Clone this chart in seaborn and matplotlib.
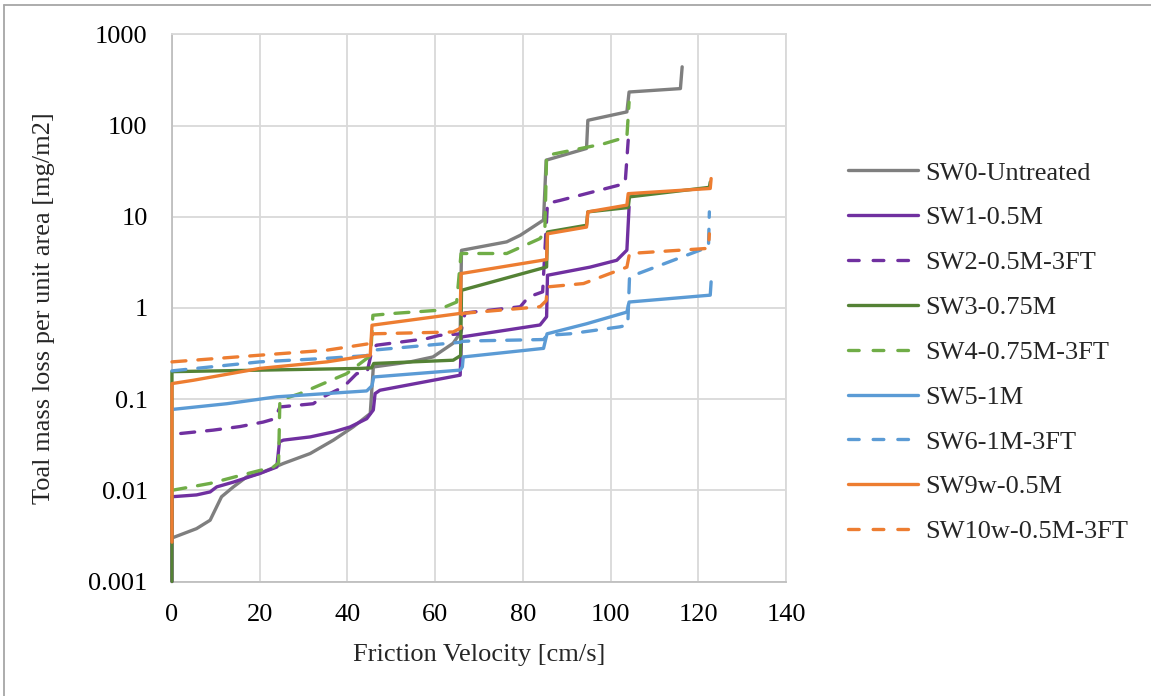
import matplotlib
matplotlib.use("Agg")
import matplotlib.pyplot as plt
import matplotlib.ticker as mticker
from matplotlib.lines import Line2D
import seaborn as sns

# series names, in legend / drawing order
names = ["SW0-Untreated", "SW1-0.5M", "SW2-0.5M-3FT", "SW3-0.75M", "SW4-0.75M-3FT",
         "SW5-1M", "SW6-1M-3FT", "SW9w-0.5M", "SW10w-0.5M-3FT"]

# friction velocity [cm/s] and mass loss [mg/m2]
sw0_x = [0, 5.6, 8.7, 11.3, 14, 17, 20, 25.4, 31.5, 36.8, 41.3, 45.2, 45.9, 54.3, 59.5, 64.1,
         65.7, 66.0, 76.3, 79.4, 84.7, 85.3, 94.5, 94.8, 103.7, 104.2, 115.9, 116.3]
sw0_y = [0.003, 0.0038, 0.0047, 0.0085, 0.0109, 0.014, 0.0153, 0.0197, 0.0253, 0.0355, 0.0495,
         0.0695, 0.225, 0.256, 0.29, 0.41, 0.53, 4.28, 5.3, 6.26, 9.2, 41.7, 56, 114, 141, 233,
         254, 440]

sw1_x = [0, 0, 5.6, 8.7, 10.2, 14, 20, 23.9, 24.5, 25.4, 31.5, 36.8, 40.6, 44.4, 45.9, 46.3,
         47.4, 65.7, 66.0, 83.9, 85.4, 85.6, 95.3, 101.4, 103.7, 104.2]
sw1_y = [0.001, 0.0085, 0.0089, 0.0096, 0.0109, 0.0123, 0.0153, 0.018, 0.034, 0.0355, 0.0385,
         0.0437, 0.0495, 0.061, 0.076, 0.115, 0.125, 0.183, 0.48, 0.65, 0.8, 2.28, 2.8, 3.33,
         4.3, 12.8]

sw2_x = [2.0, 9.4, 15.5, 20.8, 23.5, 24.6, 32.2, 34.5, 39.1, 42.1, 44.5, 45.6, 46.6, 58, 61,
         65.8, 66.8, 79.4, 81.3, 84.5, 85.6, 88.5, 103.3, 104.0]
sw2_y = [0.042, 0.0457, 0.05, 0.056, 0.061, 0.082, 0.089, 0.106, 0.136, 0.19, 0.2, 0.344, 0.39,
         0.46, 0.5, 0.52, 0.88, 1.03, 1.32, 1.5, 14, 15.1, 23.1, 69]

sw3_x = [0, 0, 42.9, 45.5, 46.0, 64.1, 65.8, 66.0, 85.4, 85.6, 94.5, 94.8, 104.0, 104.3, 122.5,
         122.7]
sw3_y = [0.001, 0.2, 0.217, 0.22, 0.246, 0.267, 0.3, 1.56, 2.81, 6.8, 8.06, 11.3, 12.6, 16.5, 21,
         24]

sw4_x = [0, 8.7, 15.7, 23.1, 24.3, 24.6, 29.2, 34.5, 39.8, 42.9, 45.3, 45.8, 50.5, 60.4, 64.9,
         65.9, 76.3, 83.9, 85.0, 85.4, 98.4, 103.7, 104.2]
sw4_y = [0.01, 0.0119, 0.0146, 0.018, 0.02, 0.0976, 0.115, 0.148, 0.19, 0.246, 0.3, 0.83, 0.87,
         0.94, 1.16, 3.95, 3.95, 5.76, 7, 47, 63, 75, 180]

sw5_x = [0, 12.5, 23.9, 44.4, 45.6, 46.0, 65.7, 66.2, 66.4, 84.7, 85.5, 94.5, 103.7, 104.2,
         122.7, 122.9]
sw5_y = [0.077, 0.089, 0.106, 0.123, 0.14, 0.175, 0.208, 0.226, 0.29, 0.36, 0.52, 0.67, 0.9,
         1.16, 1.38, 1.93]

sw6_x = [0, 20, 35.3, 44.4, 45.8, 65.7, 66.3, 68.7, 84.7, 85.5, 90.7, 102.1, 103.9, 104.3,
         122.3, 122.5]
sw6_y = [0.204, 0.256, 0.28, 0.3, 0.344, 0.42, 0.43, 0.435, 0.45, 0.5, 0.52, 0.62, 0.65, 2.19,
         4.66, 11.3]

sw9_x = [0, 0, 4.9, 20, 35.3, 45.2, 45.6, 65.7, 65.9, 85.4, 85.6, 94.5, 94.8, 103.7, 104.0,
         122.7, 122.9]
sw9_y = [0.0027, 0.148, 0.161, 0.217, 0.256, 0.303, 0.646, 0.87, 2.38, 3.39, 6.5, 7.7, 11.3,
         13.4, 17.9, 20.4, 26.2]

sw10_x = [0, 20, 35.3, 45.2, 45.7, 64.1, 65.8, 66.1, 83.9, 85.3, 85.6, 93.8, 103.7, 104.3,
          122.3, 122.5]
sw10_y = [0.256, 0.303, 0.344, 0.407, 0.52, 0.545, 0.6, 0.87, 1.03, 1.2, 1.7, 1.85, 2.8, 3.95,
          4.5, 6.5]

xs = [sw0_x, sw1_x, sw2_x, sw3_x, sw4_x, sw5_x, sw6_x, sw9_x, sw10_x]
ys = [sw0_y, sw1_y, sw2_y, sw3_y, sw4_y, sw5_y, sw6_y, sw9_y, sw10_y]
colors = ["#7F7F7F", "#7030A0", "#7030A0", "#548235", "#70AD47",
          "#5B9BD5", "#5B9BD5", "#ED7D31", "#ED7D31"]
dashed = [False, False, True, False, True, False, True, False, True]

x_ticks = [0, 20, 40, 60, 80, 100, 120, 140]
y_ticks = [0.001, 0.01, 0.1, 1, 10, 100, 1000]

sns.set_theme(style="white")
plt.rcParams["font.family"] = ["Liberation Serif", "DejaVu Serif"]

fig = plt.figure(figsize=(11.51, 6.96), dpi=100)
ax = fig.add_axes([0.1494, 0.1645, 0.5336, 0.7862])

lw = 2.4
handles = []
for name, x, y, c, d in zip(names, xs, ys, colors, dashed):
    ls = (0, (4.2, 3.6)) if d else "-"
    sns.lineplot(x=x, y=y, ax=ax, color=c, linestyle=ls, linewidth=lw, sort=False,
                 estimator=None, dash_capstyle="round", solid_capstyle="round",
                 zorder=3, clip_on=False)
    handles.append(Line2D([], [], color=c, linestyle=(0, (3.2, 4.2)) if d else "-",
                          linewidth=lw, dash_capstyle="round", solid_capstyle="round"))

ax.set_yscale("log")
ax.set_xlim(0, 140)
ax.set_ylim(0.001, 1000)
ax.set_xticks(x_ticks)
ax.set_yticks(y_ticks)
ax.yaxis.set_major_formatter(mticker.FuncFormatter(lambda v, p: "%g" % v))
ax.yaxis.set_minor_locator(mticker.NullLocator())
ax.grid(True, color="#D9D9D9", linewidth=1.3)
ax.set_axisbelow(True)
for side in ["top", "right"]:
    ax.spines[side].set_color("#D9D9D9")
    ax.spines[side].set_linewidth(1.3)
for side in ["left", "bottom"]:
    ax.spines[side].set_color("#BFBFBF")
    ax.spines[side].set_linewidth(1.3)
ax.tick_params(axis="both", length=0, labelsize=19, colors="black")
ax.tick_params(axis="x", pad=16.5)
ax.tick_params(axis="y", pad=17.5)

ax.set_xlabel("Friction Velocity [cm/s]", fontsize=19, labelpad=13)
ax.set_ylabel("Toal mass loss per unit area [mg/m2]", fontsize=19, labelpad=24)

ax.legend(handles, names, loc="center left", bbox_to_anchor=(0.7367, 0.494),
          bbox_transform=fig.transFigure, frameon=False, fontsize=19,
          handlelength=2.65, handletextpad=0.27, labelspacing=0.81, borderpad=0,
          borderaxespad=0)

# outer chart border (left and top edges visible)
fig.add_artist(Line2D([0.0035, 0.0035], [0, 0.9935], transform=fig.transFigure,
                      color="#A6A6A6", linewidth=1.3))
fig.add_artist(Line2D([0.0035, 1], [0.9935, 0.9935], transform=fig.transFigure,
                      color="#A6A6A6", linewidth=1.3))

fig.savefig("out.png", dpi=100)
